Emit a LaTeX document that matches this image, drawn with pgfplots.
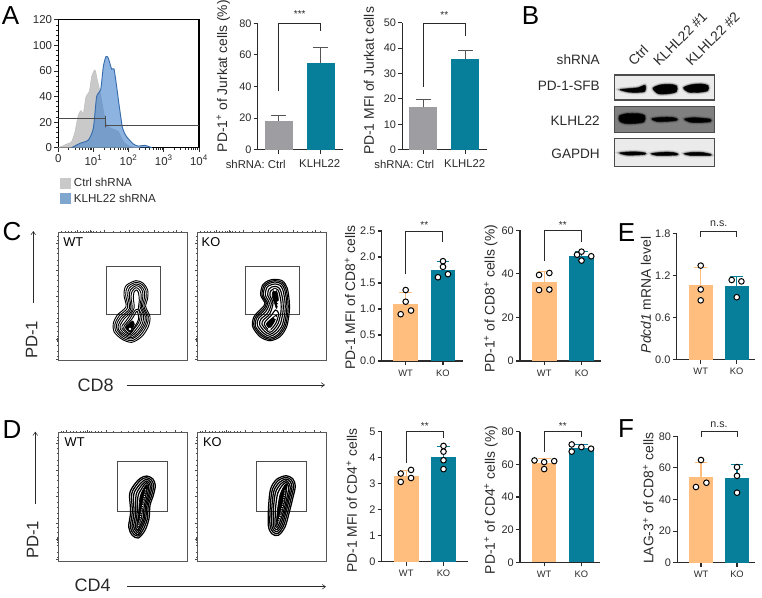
\documentclass[border=0pt]{standalone}
\usepackage{fontspec}
\setmainfont{Liberation Sans}
\usepackage{pgfplots}
\pgfplotsset{compat=1.18}
\usetikzlibrary{arrows.meta}
\newcommand\fs[1]{\fontsize{#1}{#1}\selectfont}
\definecolor{wtc}{HTML}{FFBE7D}
\definecolor{koc}{HTML}{087F9A}
\definecolor{ctlc}{HTML}{9E9EA2}
\definecolor{ink}{HTML}{2A2A2A}
\definecolor{grayh}{HTML}{C9C9C9}
\definecolor{blueh}{HTML}{4180CB}
\definecolor{blueleg}{HTML}{7FA6CF}
\tikzset{px/.style={x=0.75pt,y=-0.75pt,yshift=447.75pt}}
\pgfplotsset{
  box/.style n args={4}{at={({(#1)*0.75pt},{(597-(#2))*0.75pt})},anchor=south west,scale only axis,
    width={(#3-(#1))*0.75pt},height={(#2-(#4))*0.75pt}},
  barpanel/.style={clip=false,axis lines=left,axis line style={-,ink,line width=.8pt},
    tick style={ink,line width=.8pt},major tick length=3pt,tick align=outside,
    xtick={0,1},ymin=0,
    /pgf/number format/assume math mode=true,
    yticklabel style={font=\fs{8.2},text=ink,inner sep=1.5pt},
    xticklabel style={font=\fs{7},text=ink},
    ylabel style={font=\fs{10.4},text=ink,anchor=center}},
  ylab/.style 2 args={ylabel style={at={(axis description cs:#1,#2)}}},
  bracket/.style={ink,line width=.75pt,sharp plot,no markers},
  pts/.style={only marks,mark=*,mark size=2.1pt,mark options={fill=white,draw=black,line width=.75pt}},
  flow/.style={y dir=reverse,ymin=112,ymax=497,axis line style={draw=black!65,line width=.7pt},
    xtick pos=upper,ytick pos=left,tick align=outside,tick style={black!70,line width=.4pt},
    major tick length=2pt,minor tick length=1pt,xticklabels={},yticklabels={},
    ytick={145,225,303,383,433,493},
    minor ytick={125,135,160,175,195,210,240,255,275,290,320,335,355,370,395,410,425,430,436,440,450,470,485}},
  blot/.style={y dir=reverse,xmin=404,xmax=703,xtick=\empty,ytick=\empty,
    axis line style={draw=black!70,line width=.8pt}},
}
\newcommand\valbar[5]{\addplot[ybar,bar shift=0pt,bar width=\bw,fill=#4,draw=none,
  error bars/.cd,y dir=plus,y explicit,
  error bar style={#5,line width=.8pt},
  error mark options={rotate=90,mark size=\capw,#5,line width=.8pt}]
  coordinates {(#1,#2) +- (0,#3)};}
\def\bw{0.66}\def\capw{4.8pt}
\newcommand\sig[3]{\node[font=\fs{#3},text=ink] at (axis cs:0.5,#1) {#2};}
\newcommand\cont[1]{\addplot[black,smooth cycle,line width=\clw,no markers] coordinates {#1};}
\newcommand\contf[1]{\addplot[black,fill=black,smooth cycle,line width=.5pt,no markers] coordinates {#1};}
\def\clw{.7pt}
\newcommand\spot[1]{\addplot[only marks,mark=*,mark size=.8pt,white,mark options={draw=none,fill=white}] coordinates {#1};}
\newcommand\gate[4]{\addplot[black!70,line width=.7pt,sharp plot,no markers] coordinates {(#1,#3)(#2,#3)(#2,#4)(#1,#4)(#1,#3)};}
\newcommand\band[1]{%
  \addplot[black,smooth cycle,line width=3pt,opacity=.12,no markers] coordinates {#1};
  \addplot[black,smooth cycle,line width=1.5pt,opacity=.3,no markers] coordinates {#1};
  \addplot[black,smooth cycle,fill=black,line width=.3pt,no markers] coordinates {#1};}
\begin{document}
\begin{tikzpicture}
\path[use as bounding box] (0,0) rectangle (571.5pt,447.75pt);

% text outside the axes, in reference pixels with y downwards
\begin{scope}[px]
\node[font=\fs{19.5},text=black] at (10.5,15.5) {A};
\node[font=\fs{19.5},text=black] at (530.5,15.5) {B};
\node[font=\fs{19.5},text=black] at (12,232) {C};
\node[font=\fs{19.5},text=black] at (12,430) {D};
\node[font=\fs{19.5},text=black] at (626.5,232.5) {E};
\node[font=\fs{19.5},text=black] at (626,429) {F};
\node[font=\fs{8.5},text=ink] at (255.7,164) {shRNA: Ctrl};
\node[font=\fs{8.5},text=ink] at (319.7,164) {KLHL22};
\node[font=\fs{8.5},text=ink] at (404.3,164) {shRNA: Ctrl};
\node[font=\fs{8.5},text=ink] at (464.7,164) {KLHL22};
\node[font=\fs{10.2},text=ink,anchor=east] at (604.5,59.5) {shRNA};
\node[font=\fs{10.2},text=ink,anchor=east] at (604.5,86) {PD-1-SFB};
\node[font=\fs{10.2},text=ink,anchor=east] at (604.5,120.5) {KLHL22};
\node[font=\fs{10.2},text=ink,anchor=east] at (604.5,154) {GAPDH};
\node[font=\fs{10.4},text=ink,rotate=45,anchor=base west] at (630.7,69.7) {Ctrl};
\node[font=\fs{10.4},text=ink,rotate=45,anchor=base west] at (655.7,70.3) {KLHL22 \#1};
\node[font=\fs{10.4},text=ink,rotate=45,anchor=base west] at (688.3,70.3) {KLHL22 \#2};
\draw[-{Straight Barb[length=2.5pt,width=3.5pt]},ink,line width=.4pt] (33.3,302.7) -- (33.3,231);
\draw[-{Straight Barb[length=2.5pt,width=3.5pt]},ink,line width=.4pt] (126.7,385) -- (325,385);
\node[font=\fs{12.5},text=ink,rotate=90] at (31.7,340) {PD-1};
\node[font=\fs{13.5},text=ink] at (95.7,385.7) {CD8};
\draw[-{Straight Barb[length=2.5pt,width=3.5pt]},ink,line width=.4pt] (35.3,503.7) -- (35.3,431.7);
\draw[-{Straight Barb[length=2.5pt,width=3.5pt]},ink,line width=.4pt] (127.3,586.7) -- (326,586.7);
\node[font=\fs{12.5},text=ink,rotate=90] at (32.7,540) {PD-1};
\node[font=\fs{13.5},text=ink] at (92.7,585) {CD4};
\end{scope}

% A: histogram
\begin{axis}[box={58.3}{147.7}{199}{19.8},clip=false,xmin=0,xmax=4,ymin=0,ymax=100,
  axis line style={black,line width=.8pt},tick pos=left,tick align=outside,
  tick style={ink,line width=.6pt},major tick length=3pt,minor tick length=1.6pt,
  xtick={0,1,2,3,4},xticklabels={0,10\textsuperscript{1},10\textsuperscript{2},10\textsuperscript{3},10\textsuperscript{4}},
  ytick={0,20,40,60,80,100},yticklabels={0,20,40,60,100,120},
  minor y tick num=4,
  minor xtick={.301,.477,.602,.699,.778,.845,.903,.954,1.301,1.477,1.602,1.699,1.778,1.845,1.903,1.954,2.301,2.477,2.602,2.699,2.778,2.845,2.903,2.954,3.301,3.477,3.602,3.699,3.778,3.845,3.903,3.954},
  ticklabel style={font=\fs{8.6},text=ink},xticklabel style={inner sep=2pt},yticklabel style={inner sep=1.5pt},
  legend cell align=left,
  legend style={draw=none,fill=none,at={(axis description cs:0.012,-0.213)},anchor=north west,font=\fs{8.7},text=ink,
    inner sep=0pt,row sep=0pt,/tikz/every even column/.append style={column sep=5pt}},
  legend image code/.code={\fill[#1,draw=none] (0pt,-4.1pt) rectangle (8.25pt,4.1pt);}]
\addplot[fill=grayh,draw=black!25,line width=.4pt,smooth,tension=.4] coordinates {
  (0,0)(.142,1.6)(.284,3.4)(.379,4.7)(.474,12.5)(.569,25.6)(.645,29)(.711,26.9)(.787,39.9)(.882,43.9)
  (.948,55.6)(1.043,60.8)(1.109,53)(1.185,43.9)(1.28,29.5)(1.374,17.8)(1.564,14.4)(1.706,12.5)
  (1.848,4.7)(1.991,1.6)(2.133,.5)(2.322,0)};
\addlegendentry{Ctrl shRNA}
\addplot[fill=blueh,fill opacity=.6,draw=blueh!85!black,line width=.7pt,smooth,tension=.4,forget plot] coordinates {
  (.379,0)(.616,3.4)(.853,6)(.995,15.1)(1.09,39.9)(1.204,45.2)(1.28,63.4)(1.355,71.3)(1.422,70)
  (1.517,61.4)(1.583,61.6)(1.659,47.8)(1.735,32.1)(1.829,15.1)(1.943,8.6)(2.133,2.9)(2.275,1.3)
  (2.464,1.8)(2.654,0)};
\addlegendimage{fill=blueleg}
\addlegendentry{KLHL22 shRNA}
\addplot[black!70,line width=.6pt,sharp plot,no markers,forget plot] coordinates {(0,23)(1.336,23)(1.336,24.8)(1.336,15.9)(1.336,17.2)(4,17.2)};
\end{axis}

% A: PD-1+ of Jurkat cells
\def\bw{0.665}\def\capw{5.6pt}
\begin{axis}[barpanel,box={257.7}{149.7}{342.7}{23.3},xmin=-.504,xmax=1.525,ymax=80,
  ytick={0,20,40,60,80},xticklabels={},ylabel={PD-1\textsuperscript{+} of Jurkat cells (\%)},ylab={-.405}{.581}]
\valbar{0}{18.2}{3.5}{ctlc}{ink!80}
\valbar{1}{54.6}{10}{koc}{ink!80}
\addplot[bracket] coordinates {(0,37.3)(0,80)(1,80)(1,75.3)};
\sig{86}{***}{7.5}
\end{axis}

% A: PD-1 MFI of Jurkat cells
\begin{axis}[barpanel,box={402.3}{149.7}{487}{22.7},xmin=-.495,xmax=1.512,ymax=50,
  ytick={0,10,20,30,40,50},xticklabels={},ylabel={PD-1 MFI of Jurkat cells},ylab={-.393}{.541}]
\valbar{0}{16.7}{2.9}{ctlc}{ink!80}
\valbar{1}{35.8}{3.3}{koc}{ink!80}
\addplot[bracket] coordinates {(0,24.8)(0,49.6)(1,49.6)(1,44.9)};
\sig{53}{**}{7.5}
\end{axis}

% B: blots, in the coordinates of the crop
\begin{axis}[blot,box={614.7}{100}{714.3}{75},ymin=225,ymax=300,axis background/.style={fill=black!8}]
\band{(420,269)(445,266)(475,263)(495,256)(494,274)(470,277)(445,276)}
\band{(519,265)(540,255)(570,253)(590,258)(589,275)(565,281)(535,281)}
\band{(611,263)(635,254)(665,252)(684,257)(683,272)(655,277)(625,276)}
\end{axis}
\begin{axis}[blot,box={614.7}{132.7}{714.3}{106.7},ymin=320,ymax=398,axis background/.style={fill=black!50}]
\band{(418,348)(440,341)(475,341)(494,347)(492,365)(465,370)(435,370)(419,363)}
\band{(516,356)(545,352)(575,352)(590,356)(589,361)(560,364)(530,364)}
\band{(614,357)(640,353)(670,355)(691,358)(690,365)(660,367)(630,366)}
\end{axis}
\begin{axis}[blot,box={614.7}{166.7}{714.3}{138.3},ymin=415,ymax=500,axis background/.style={fill=black!8}]
\band{(419,459)(445,456)(475,456)(495,459)(494,463)(465,465)(440,465)}
\band{(514,461)(545,457)(575,457)(592,461)(590,465)(560,466)(530,466)}
\band{(613,461)(640,457)(670,458)(692,463)(690,466)(660,466)(630,466)}
\end{axis}

% C: contour plots, in the coordinates of the crop
\begin{axis}[flow,box={58.3}{360.7}{187}{232.3},xmin=175,xmax=561,
  xtick={232,270,313,388,462,530},
  minor xtick={185,195,205,215,225,240,250,260,265,275,280,290,300,340,360,375,400,415,430,445,475,490,505,520,545}]
\gate{319}{481}{214}{358}
\def\clw{.7pt}
\cont{(408,257)(430,265)(443,285)(443,310)(437,335)(450,365)(445,395)(425,425)(395,442)(365,432)(342,410)(340,385)(352,360)(378,335)(372,300)(378,272)}
\cont{(408,262)(427,269)(438,286)(438,310)(432,335)(445,365)(440,392)(421,421)(395,437)(367,428)(347,407)(345,387)(357,363)(383,338)(377,300)(383,275)}
\cont{(408,267)(423,273)(433,288)(433,310)(428,335)(441,365)(435,391)(417,417)(394,432)(370,424)(352,405)(350,388)(362,366)(388,341)(383,301)(388,279)}
\cont{(408,272)(420,277)(428,290)(428,310)(424,335)(436,365)(431,389)(414,414)(394,428)(372,420)(356,404)(355,390)(367,369)(392,343)(388,303)(392,284)}
\cont{(408,278)(417,283)(423,295)(423,315)(420,335)(431,362)(426,388)(410,410)(393,424)(375,417)(361,402)(360,392)(372,372)(396,345)(393,305)(397,288)}
\cont{(409,285)(415,292)(418,315)(416,340)(426,362)(421,385)(406,406)(392,420)(378,413)(366,400)(366,393)(382,372)(402,340)(400,310)(402,292)}
\cont{(416,345)(421,362)(416,383)(402,402)(391,416)(380,410)(371,399)(373,392)(388,374)(406,345)}
\cont{(413,352)(416,372)(406,392)(393,411)(383,405)(376,397)(380,390)(396,372)(409,350)}
\contf{(398,378)(403,388)(398,400)(391,412)(384,406)(378,398)(386,388)}
\spot{(390,402)}
\node[font=\fs{9.6},text=black,anchor=center] at (axis cs:220,140) {WT};
\end{axis}
\begin{axis}[flow,box={197.3}{360.7}{326}{232.3},xmin=592,xmax=978,
  xtick={649,687,730,805,879,947},
  minor xtick={602,612,622,632,642,657,667,677,682,692,697,707,717,757,777,792,817,832,847,862,892,907,922,937,962}]
\gate{736}{898}{214}{358}
\def\clw{.85pt}
\cont{(825,253)(848,258)(862,280)(868,320)(868,350)(860,395)(840,425)(810,437)(780,425)(758,395)(762,365)(785,340)(795,325)(782,300)(788,270)(805,257)}
\cont{(825,257)(846,262)(858,282)(864,320)(864,350)(856,393)(837,421)(810,433)(783,421)(762,394)(766,367)(789,343)(799,325)(786,300)(792,272)(807,261)}
\cont{(825,261)(843,266)(854,284)(860,320)(860,350)(852,391)(834,418)(810,429)(786,418)(766,393)(770,369)(793,346)(803,325)(790,300)(796,274)(809,265)}
\cont{(825,267)(840,271)(849,286)(855,320)(855,350)(847,390)(830,413)(810,424)(790,414)(772,391)(776,370)(797,350)(808,325)(796,300)(801,277)(812,270)}
\cont{(825,274)(836,278)(843,290)(849,320)(849,350)(841,387)(826,408)(810,418)(794,409)(779,389)(783,372)(803,354)(814,325)(803,300)(807,282)(815,276)}
\cont{(825,280)(833,284)(838,295)(843,322)(843,350)(835,384)(822,403)(810,412)(798,404)(786,388)(790,375)(809,357)(819,325)(810,302)(812,288)}
\contf{(825,284)(831,291)(835,312)(830,340)(824,325)(817,305)(818,292)}
\cont{(836,355)(829,382)(818,398)(809,405)(800,399)(793,388)(797,378)(815,360)(826,345)}
\contf{(830,360)(823,380)(814,394)(808,399)(802,394)(799,388)(804,380)(818,368)}
\spot{(825,285)(808,402)(835,322)(835,330)(826,368)}
\node[font=\fs{9.6},text=black,anchor=center] at (axis cs:633,140) {KO};
\end{axis}

% C: bars
\def\bw{0.66}\def\capw{4.8pt}
\begin{axis}[barpanel,box={381.7}{361}{463.3}{231},xmin=-.643,xmax=1.545,ymax=2.5,
  ytick={0,.5,1,1.5,2,2.5},yticklabels={0.0,0.5,1.0,1.5,2.0,2.5},xticklabels={WT,KO},
  ylabel={PD-1 MFI of CD8\textsuperscript{+} cells},ylab={-.388}{.488}]
\valbar{0}{1.09}{.22}{wtc}{wtc}
\valbar{1}{1.75}{.16}{koc}{koc}
\addplot[pts] coordinates {(0,1.365)(0,1.14)(-.134,.9)(.143,.97)(1,1.92)(1,1.81)(.866,1.61)(1.134,1.67)};
\addplot[bracket] coordinates {(0,1.667)(0,2.5)(1,2.5)(1,2.28)};
\sig{2.62}{**}{7.5}
\end{axis}
\begin{axis}[barpanel,box={520}{361}{600.7}{230.3},xmin=-.649,xmax=1.514,ymax=60,
  ytick={0,20,40,60},xticklabels={WT,KO},
  ylabel={PD-1\textsuperscript{+} of CD8\textsuperscript{+} cells (\%)},ylab={-.363}{.477}]
\valbar{0}{36.3}{4.6}{wtc}{wtc}
\valbar{1}{48.2}{2}{koc}{koc}
\addplot[pts] coordinates {(-.138,39.5)(.138,40.4)(-.138,32.6)(.138,32.8)(.88,48.8)(1,50.2)(1.26,48.1)(1,46.1)};
\addplot[bracket] coordinates {(0,45.9)(0,60)(1,60)(1,54.8)};
\sig{62.4}{**}{7.5}
\end{axis}
\begin{axis}[barpanel,box={676.7}{359.7}{755}{233.3},xmin=-.667,xmax=1.508,ymax=1.8,
  ytick={0,.6,1.2,1.8},yticklabels={0.0,0.6,1.2,1.8},xticklabels={WT,KO},
  ylabel={\textit{Pdcd1} mRNA level},ylab={-.392}{.512}]
\valbar{0}{1.064}{.251}{wtc}{wtc}
\valbar{1}{1.05}{.14}{koc}{koc}
\addplot[pts] coordinates {(0,1.34)(0,1)(0,.845)(.86,1.135)(1.13,1.115)(1,.89)};
\addplot[bracket] coordinates {(0,1.743)(0,1.823)(1,1.823)(1,1.743)};
\sig{1.94}{n.s.}{8}
\end{axis}

% D: contour plots
\begin{axis}[flow,box={58.3}{561}{187}{432.7},xmin=175,xmax=561,
  xtick={200,262,320,432,525},
  minor xtick={185,190,210,220,230,240,250,256,268,275,285,295,305,340,365,385,400,415,445,460,480,500,545}]
\gate{353}{502}{197}{348}
\def\clw{.95pt}
\cont{(440,242)(458,250)(466,270)(460,300)(450,330)(447,370)(435,405)(415,428)(397,420)(386,395)(392,350)(389,295)(405,265)(422,248)}
\cont{(440,247)(454,254)(461,271)(455,300)(445,330)(442,370)(430,402)(415,422)(401,416)(391,395)(397,350)(395,296)(410,268)(425,252)}
\cont{(440,252)(450,258)(456,272)(450,300)(441,330)(437,370)(426,398)(415,417)(405,412)(396,394)(402,352)(401,298)(415,272)(428,258)}
\cont{(440,257)(447,262)(451,274)(446,300)(437,330)(433,370)(423,394)(414,411)(408,407)(401,393)(407,355)(408,300)(420,276)(431,263)}
\cont{(440,262)(445,268)(446,276)(442,300)(433,330)(429,370)(420,390)(414,405)(410,402)(406,392)(411,358)(414,303)(425,280)(433,268)}
\contf{(439,268)(443,274)(438,300)(429,330)(425,368)(417,388)(413,398)(410,392)(415,358)(420,305)(429,283)}
\addplot[white,line width=.7pt,densely dotted,sharp plot,no markers] coordinates {(437,282)(432,310)(425,345)(420,375)(413,395)};
\node[font=\fs{9.6},text=black,anchor=center] at (axis cs:224,140) {WT};
\end{axis}
\begin{axis}[flow,box={197.3}{561}{326}{432.7},xmin=592,xmax=978,
  xtick={617,679,737,849,942},
  minor xtick={602,607,627,637,647,657,667,673,685,692,702,712,722,757,782,802,817,832,862,877,897,917,962}]
\gate{769}{919}{197}{348}
\def\clw{.95pt}
\cont{(858,241)(878,250)(886,272)(878,310)(868,350)(855,395)(835,420)(815,415)(805,390)(806,330)(812,280)(830,252)}
\cont{(858,246)(874,254)(881,273)(873,310)(863,350)(850,393)(834,414)(819,410)(810,389)(811,330)(817,283)(834,256)}
\cont{(858,251)(870,258)(876,275)(868,310)(858,350)(846,390)(833,408)(822,405)(815,388)(816,331)(822,286)(838,261)}
\cont{(858,256)(866,263)(871,277)(864,310)(854,350)(842,387)(832,402)(825,400)(820,387)(821,332)(827,290)(842,266)}
\cont{(858,261)(863,268)(866,279)(860,310)(850,350)(838,384)(831,396)(827,394)(825,385)(827,335)(833,294)(846,271)}
\contf{(858,266)(861,273)(856,310)(846,350)(835,380)(830,390)(829,383)(833,338)(840,298)(850,276)}
\addplot[white,line width=.7pt,densely dotted,sharp plot,no markers] coordinates {(855,285)(850,320)(842,355)(835,380)};
\node[font=\fs{9.6},text=black,anchor=center] at (axis cs:637,140) {KO};
\end{axis}

% D: bars
\begin{axis}[barpanel,box={381.7}{561.7}{468.3}{431.3},xmin=-.657,xmax=1.665,ymax=5,
  ytick={0,1,2,3,4,5},xticklabels={WT,KO},
  ylabel={PD-1 MFI of CD4\textsuperscript{+} cells},ylab={-.346}{.469}]
\valbar{0}{3.29}{.21}{wtc}{wtc}
\valbar{1}{4.03}{.38}{koc}{koc}
\addplot[pts] coordinates {(-.147,3.38)(.13,3.52)(-.147,3.06)(.13,3.21)(1,4.44)(1,4.22)(1,3.89)(1,3.55)};
\addplot[bracket] coordinates {(0,3.77)(0,5)(1,5)(1,4.76)};
\sig{5.19}{**}{7.5}
\end{axis}
\begin{axis}[barpanel,box={520}{562.3}{600}{431.7},xmin=-.649,xmax=1.5,ymax=80,
  ytick={0,20,40,60,80},xticklabels={WT,KO},
  ylabel={PD-1\textsuperscript{+} of CD4\textsuperscript{+} cells (\%)},ylab={-.363}{.477}]
\valbar{0}{60.8}{2.9}{wtc}{wtc}
\valbar{1}{70}{2.2}{koc}{koc}
\addplot[pts] coordinates {(-.26,62.4)(0,61.4)(.27,62)(0,57.1)(.74,72.2)(.74,67.8)(1,70.6)(1.26,69.6)};
\addplot[bracket] coordinates {(0,67.8)(0,80)(1,80)(1,76.5)};
\sig{83.3}{**}{7.5}
\end{axis}
\begin{axis}[barpanel,box={677.3}{562.7}{755}{436.3},xmin=-.658,xmax=1.5,ymax=80,
  ytick={0,20,40,60,80},xticklabels={WT,KO},
  ylabel={LAG-3\textsuperscript{+} of CD8\textsuperscript{+} cells},ylab={-.373}{.51}]
\valbar{0}{54.4}{9.1}{wtc}{wtc}
\valbar{1}{53.4}{8.6}{koc}{koc}
\addplot[pts] coordinates {(0,65)(-.14,47.9)(.15,50.6)(1,60.5)(1,55)(1,44.3)};
\addplot[bracket] coordinates {(0,79.3)(0,82.9)(1,82.9)(1,79.3)};
\sig{87.6}{n.s.}{8}
\end{axis}
\end{tikzpicture}
\end{document}
